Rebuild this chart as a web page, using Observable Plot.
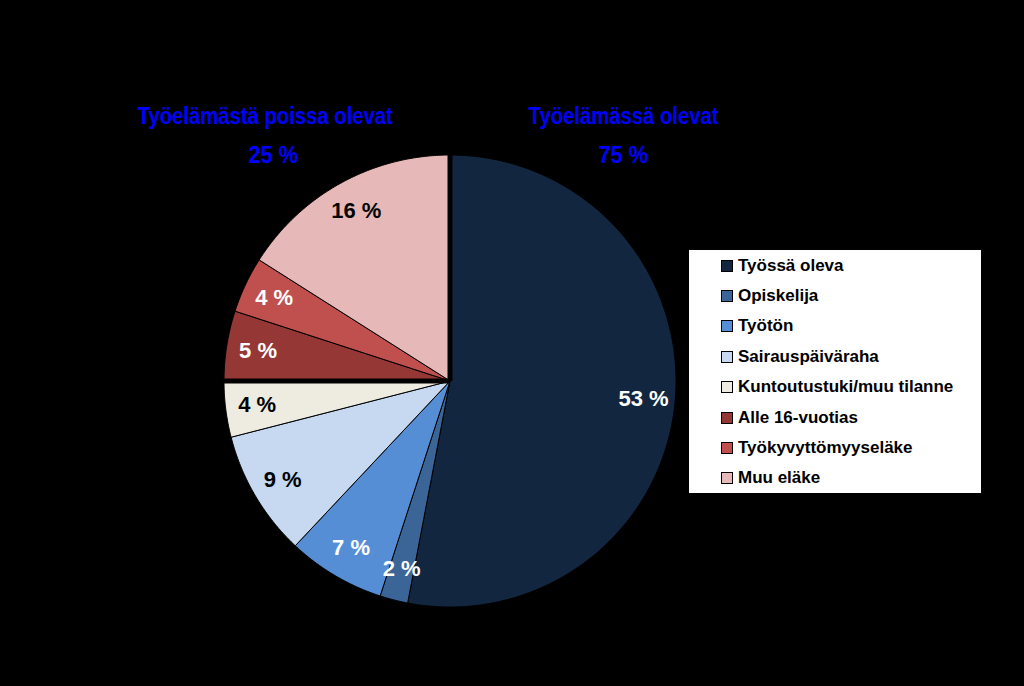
<!DOCTYPE html>
<html>
<head>
<meta charset="utf-8">
<script src="https://cdn.jsdelivr.net/npm/d3@7"></script>
<script src="https://cdn.jsdelivr.net/npm/@observablehq/plot@0.6"></script>
<style>
  html, body { margin: 0; padding: 0; background: #000; }
  #wrap { position: relative; width: 1024px; height: 686px; background: #000; overflow: hidden; }
  #wrap svg { position: absolute; left: 0; top: 0; }
  .title { position: absolute; color: #0000ff; font-family: "Liberation Sans", Arial, sans-serif; font-weight: bold; font-size: 24px; line-height: 1; white-space: nowrap; }
  #legend { position: absolute; left: 689px; top: 250px; width: 292px; height: 243px; background: #fff; font-family: "Liberation Sans", Arial, sans-serif; font-weight: bold; font-size: 17px; color: #000; }
  .item { position: absolute; left: 32px; height: 20px; display: flex; align-items: center; transform: translateY(-50%); white-space: nowrap; }
  .sw { width: 10px; height: 10px; border: 1px solid #000; margin-right: 5px; }
</style>
</head>
<body>
<div id="wrap"></div>
<script>
// ---- data ----
const categories = ["Työssä oleva", "Opiskelija", "Työtön", "Sairauspäiväraha", "Kuntoutustuki/muu tilanne", "Alle 16-vuotias", "Työkyvyttömyyseläke", "Muu eläke"];
const values = [53, 2, 7, 9, 4, 5, 4, 16];
const colors = ["#12263f", "#3b6597", "#558ed5", "#c6d9f1", "#eeece1", "#953735", "#c0504d", "#e6b9b8"];
const groupTitles = ["Työelämässä olevat", "Työelämästä poissa olevat"];
const groupValues = [75, 25];

// ---- layout ----
const W = 1024, H = 686, CX = 449.5, CY = 380.5, R = 226;
const total = d3.sum(values);
const ang = p => (p / total) * 2 * Math.PI; // clockwise from 12 o'clock
const pt = (a, r) => ({u: r * Math.sin(a), v: r * Math.cos(a)});

let cum = 0;
const slices = categories.map((c, i) => {
  const s = {cat: c, value: values[i], start: cum, end: cum + values[i]};
  cum += values[i];
  return s;
});

const poly = [];
for (const s of slices) {
  const a0 = ang(s.start), a1 = ang(s.end);
  poly.push({cat: s.cat, ...pt(0, 0)});
  const n = Math.max(4, Math.ceil((a1 - a0) / (Math.PI / 360)));
  for (let k = 0; k <= n; k++) poly.push({cat: s.cat, ...pt(a0 + (a1 - a0) * k / n, 1)});
  poly.push({cat: s.cat, ...pt(0, 0)});
}

const labels = slices.map(s => {
  const p = pt(ang((s.start + s.end) / 2), 0.86);
  const col = colors[categories.indexOf(s.cat)];
  return {...p, text: s.value + " %", fill: d3.hsl(col).l > 0.7 ? "#000" : "#fff"};
});

let gc = 0;
const seps = groupValues.map(g => { const a = ang(gc); gc += g; const e = pt(a, 1.01); return {x1: 0, y1: 0, x2: e.u, y2: e.v}; });

const chart = Plot.plot({
  width: W, height: H, margin: 0,
  style: {background: "#000"},
  x: {domain: [-CX / R, (W - CX) / R], range: [0, W], axis: null},
  y: {domain: [(CY - H) / R, CY / R], range: [H, 0], axis: null},
  color: {domain: categories, range: colors},
  marks: [
    Plot.line(poly, {x: "u", y: "v", z: "cat", fill: "cat", stroke: "#000", strokeWidth: 1, strokeLinejoin: "round"}),
    Plot.link(seps, {x1: "x1", y1: "y1", x2: "x2", y2: "y2", stroke: "#000", strokeWidth: 5}),
    Plot.text(labels, {x: "u", y: "v", text: "text", fill: d => d.fill, fontSize: 22, fontWeight: "bold", fontFamily: "Liberation Sans, Arial, sans-serif"})
  ]
});

const wrap = document.getElementById("wrap");
wrap.appendChild(chart);

// group titles (75 % right side, 25 % left side); condensed by horizontal scaling
const titlePos = [
  {x: 623, y1: 116, w1: 190, x2: 623, y2: 155, w2: 50},
  {x: 265, y1: 116, w1: 255, x2: 273, y2: 155, w2: 50}
];
function addTitle(text, cx, cy, targetW) {
  const d = document.createElement("div"); d.className = "title"; d.textContent = text;
  wrap.appendChild(d);
  const w = d.offsetWidth, h = d.offsetHeight;
  d.style.left = (cx - w / 2) + "px"; d.style.top = (cy - h / 2) + "px";
  d.style.transform = `scaleX(${targetW / w})`;
}
groupTitles.forEach((t, i) => {
  const p = titlePos[i];
  addTitle(t, p.x, p.y1, p.w1);
  addTitle(groupValues[i] + " %", p.x2, p.y2, p.w2);
});

// legend
const leg = document.createElement("div"); leg.id = "legend";
categories.forEach((c, i) => {
  const it = document.createElement("div"); it.className = "item";
  it.style.top = (15.5 + 30.4 * i) + "px";
  const sw = document.createElement("div"); sw.className = "sw"; sw.style.background = colors[i];
  const tx = document.createElement("span"); tx.textContent = c;
  it.appendChild(sw); it.appendChild(tx); leg.appendChild(it);
});
wrap.appendChild(leg);
</script>
</body>
</html>
